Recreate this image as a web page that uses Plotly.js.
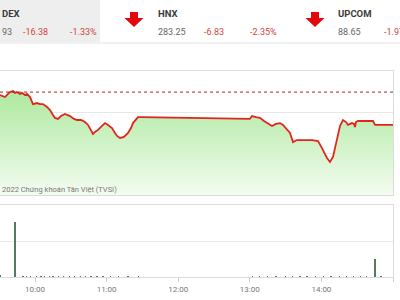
<!DOCTYPE html>
<html>
<head>
<meta charset="utf-8">
<script src="https://cdn.plot.ly/plotly-3.0.1.min.js"></script>
<style>html,body{margin:0;padding:0;background:#fff;}#chart{width:400px;height:300px;}</style>
</head>
<body>
<div id="chart"></div>
<script>
// ---- data ----
var day = '2022-01-01 ';
var priceTimes = ['09:30:40','09:33:11','09:34:52','09:37:22','09:39:03','09:41:34','09:43:14','09:44:55','09:47:26','09:49:07','09:51:37','09:53:18','09:55:49','09:58:19','10:01:41','10:04:11','10:06:42','10:10:04','10:12:34','10:15:05','10:16:46','10:19:16','10:21:47','10:25:08','10:27:39','10:29:20','10:32:41','10:35:12','10:38:33','10:41:54','10:44:25','10:46:05','10:48:37','10:50:17','10:52:48','10:56:09','10:58:40','11:01:10','11:04:32','11:07:02','11:08:43','11:11:14','11:14:35','11:17:56','11:20:27','11:22:07','11:24:38','11:26:19','11:29:40','11:30:00','13:00:00','13:01:50','13:05:11','13:08:32','13:11:53','13:14:25','13:16:55','13:18:36','13:21:57','13:25:18','13:27:49','13:29:29','13:32:01','13:33:41','13:35:22','13:36:12','13:39:33','13:43:44','13:47:56','13:52:07','13:57:09','13:58:49','14:00:30','14:03:01','14:04:41','14:07:12','14:09:43','14:11:23','14:13:55','14:15:35','14:18:06','14:20:37','14:22:17','14:23:58','14:25:38','14:27:19','14:28:09','14:28:59','14:30:40','14:43:14','14:45:00','15:00:00'];
var priceValues = [1228.4,1227.9,1227.4,1228.9,1229.8,1230.3,1229.4,1229.8,1228.9,1229.4,1228.4,1228.9,1227.4,1224.0,1224.5,1224.0,1224.0,1222.6,1221.1,1218.7,1217.3,1216.8,1218.2,1219.2,1218.7,1218.2,1216.8,1216.3,1216.3,1215.3,1213.9,1212.4,1209.5,1210.5,1211.5,1213.4,1214.8,1213.9,1212.4,1210.0,1208.6,1207.6,1208.1,1210.0,1212.4,1214.8,1216.8,1217.7,1217.7,1217.7,1216.8,1218.2,1217.7,1217.3,1215.8,1214.8,1213.9,1213.4,1214.4,1214.8,1213.9,1212.9,1211.5,1210.0,1207.1,1205.6,1206.6,1206.6,1206.6,1206.6,1206.1,1204.7,1202.7,1199.8,1197.9,1196.0,1198.4,1202.7,1210.0,1213.4,1216.3,1215.3,1213.9,1214.4,1214.8,1214.4,1212.9,1215.3,1215.8,1215.8,1213.9,1213.9];
var referencePrice = 1229.8;
var volTimes = ['09:31:00','09:43:14','09:50:00','09:53:00','09:56:30','10:01:00','10:05:00','10:08:00','10:12:00','10:15:00','10:20:00','10:24:00','10:29:00','10:33:00','10:38:00','10:42:00','10:47:00','10:52:00','10:57:00','11:03:00','11:10:00','11:18:00','11:27:00','13:02:00','13:08:00','13:15:00','13:22:00','13:30:00','13:36:00','13:42:00','13:48:00','13:55:00','14:02:00','14:08:00','14:15:00','14:21:00','14:27:00','14:33:00','14:38:00','14:45:00','14:50:00'];
var volValues = [0.3,7.6,0.15,0.2,0.15,0.1,0.15,0.2,0.15,0.1,0.15,0.15,0.2,0.15,0.15,0.2,0.2,0.2,0.15,0.1,0.15,0.1,0.1,0.15,0.1,0.15,0.1,0.2,0.15,0.15,0.2,0.15,0.2,0.15,0.2,0.15,0.15,0.15,0.15,2.5,0.1];
var headerNames = ['DEX','HNX','UPCOM'];
var headerValues = ['93','283.25','88.65'];
var headerChanges = ['-16.38','-6.83','-1.97'];
var headerPercents = ['-1.33%','-2.35%',''];
var copyrightText = '2022 Chứng khoán Tân Việt (TVSI)';

// ---- layout helpers (pixel -> paper) ----
var PW = 393, PH = 277;
function px(x){ return x / PW; }
function py(y){ return 1 - y / PH; }

var tP = priceTimes.map(function(t){ return day + t; });
var tV = volTimes.map(function(t){ return day + t; });

var traces = [
  {
    x: tP, y: priceValues, type: 'scatter', mode: 'lines',
    line: {color: '#e0261c', width: 1.8},
    fill: 'tozeroy',
    fillgradient: {type: 'vertical', start: 1180, stop: 1232, colorscale: [[0, '#f3fcf0'], [1, '#abe89c']]},
    xaxis: 'x', yaxis: 'y', hoverinfo: 'skip'
  },
  {
    x: [day + '09:30:40', day + '15:00:00'], y: [referencePrice, referencePrice],
    type: 'scatter', mode: 'lines', line: {color: '#9a2a2a', width: 1, dash: 'dot'},
    xaxis: 'x', yaxis: 'y', hoverinfo: 'skip'
  },
  {
    x: tV, y: volValues, type: 'bar', width: 62000,
    marker: {color: '#587a5c', line: {width: 0}},
    xaxis: 'x2', yaxis: 'y2', hoverinfo: 'skip'
  }
];

var xr = [day + '09:30:40', day + '15:00:00'];
var shapes = [
  {type: 'rect', xref: 'paper', yref: 'paper', x0: 0, x1: px(100), y0: py(42), y1: py(0), fillcolor: '#eeeeee', line: {width: 0}, layer: 'below'},
  {type: 'line', xref: 'paper', yref: 'paper', x0: 0, x1: px(400), y0: py(43), y1: py(43), line: {color: '#e2e2e2', width: 1}}
];
function arrow(cx){
  var p = 'M ' + px(cx - 4) + ' ' + py(12) + ' L ' + px(cx + 4) + ' ' + py(12) + ' L ' + px(cx + 4) + ' ' + py(18) +
          ' L ' + px(cx + 9.5) + ' ' + py(18) + ' L ' + px(cx) + ' ' + py(27) + ' L ' + px(cx - 9.5) + ' ' + py(18) +
          ' L ' + px(cx - 4) + ' ' + py(18) + ' Z';
  return {type: 'path', xref: 'paper', yref: 'paper', path: p, fillcolor: '#e3070b', line: {width: 0}};
}
shapes.push(arrow(134));
shapes.push(arrow(315));

var F = 'Roboto, Arial, sans-serif';
var ann = [];
var cols = [{n: 0, v: 0, c: 21, p: 68}, {n: 156, v: 156, c: 202, p: 248}, {n: 336, v: 336, c: 382, p: 430}];
for (var i = 0; i < 3; i++) {
  ann.push({xref: 'paper', yref: 'paper', x: px(cols[i].n), y: py(13.5), xanchor: 'left', yanchor: 'middle', text: '<b>' + headerNames[i] + '</b>', showarrow: false, font: {family: F, size: 9.5, color: '#3a3a3a'}});
  ann.push({xref: 'paper', yref: 'paper', x: px(cols[i].v), y: py(32), xanchor: 'left', yanchor: 'middle', text: headerValues[i], showarrow: false, font: {family: F, size: 9, color: '#666'}});
  ann.push({xref: 'paper', yref: 'paper', x: px(cols[i].c), y: py(32), xanchor: 'left', yanchor: 'middle', text: headerChanges[i], showarrow: false, font: {family: F, size: 9, color: '#d0453d'}});
  if (headerPercents[i]) ann.push({xref: 'paper', yref: 'paper', x: px(cols[i].p), y: py(32), xanchor: 'left', yanchor: 'middle', text: headerPercents[i], showarrow: false, font: {family: F, size: 9, color: '#d0453d'}});
}
ann.push({xref: 'paper', yref: 'paper', x: 0, y: py(189.5), xanchor: 'left', yanchor: 'middle', text: copyrightText, showarrow: false, font: {family: F, size: 7.5, color: '#7a7a7a'}});

var layout = {
  width: 400, height: 300,
  margin: {l: 0, r: 7, t: 0, b: 23, pad: 0},
  paper_bgcolor: '#ffffff', plot_bgcolor: 'rgba(0,0,0,0)',
  showlegend: false, bargap: 0,
  font: {family: F},
  xaxis: {type: 'date', range: xr, domain: [0, 1], anchor: 'y', showticklabels: false, showgrid: false, zeroline: false,
          showline: true, mirror: true, linecolor: '#dcdcdc', linewidth: 1, ticks: ''},
  yaxis: {domain: [py(195), py(71)], range: [1180, 1240], side: 'right', anchor: 'x', tickvals: [1200, 1220],
          showticklabels: false, gridcolor: '#e8e8e8', showline: true, linecolor: '#dcdcdc', zeroline: false, ticks: ''},
  xaxis2: {type: 'date', range: xr, domain: [0, 1], anchor: 'y2', showgrid: false, zeroline: false,
           showline: true, mirror: true, linecolor: '#dcdcdc', linewidth: 1,
           ticks: 'outside', ticklen: 4, tickcolor: '#cccccc', tickformat: '%H:%M', dtick: 3600000, tick0: day + '10:00:00',
           tickfont: {family: F, size: 8, color: '#777'}},
  yaxis2: {domain: [0, py(205)], range: [0, 10], side: 'right', anchor: 'x2', tickvals: [5], showticklabels: false,
           gridcolor: '#e8e8e8', showline: true, linecolor: '#dcdcdc', zeroline: false, ticks: ''},
  shapes: shapes,
  annotations: ann
};
Plotly.newPlot('chart', traces, layout, {staticPlot: true, displayModeBar: false});
</script>
</body>
</html>
